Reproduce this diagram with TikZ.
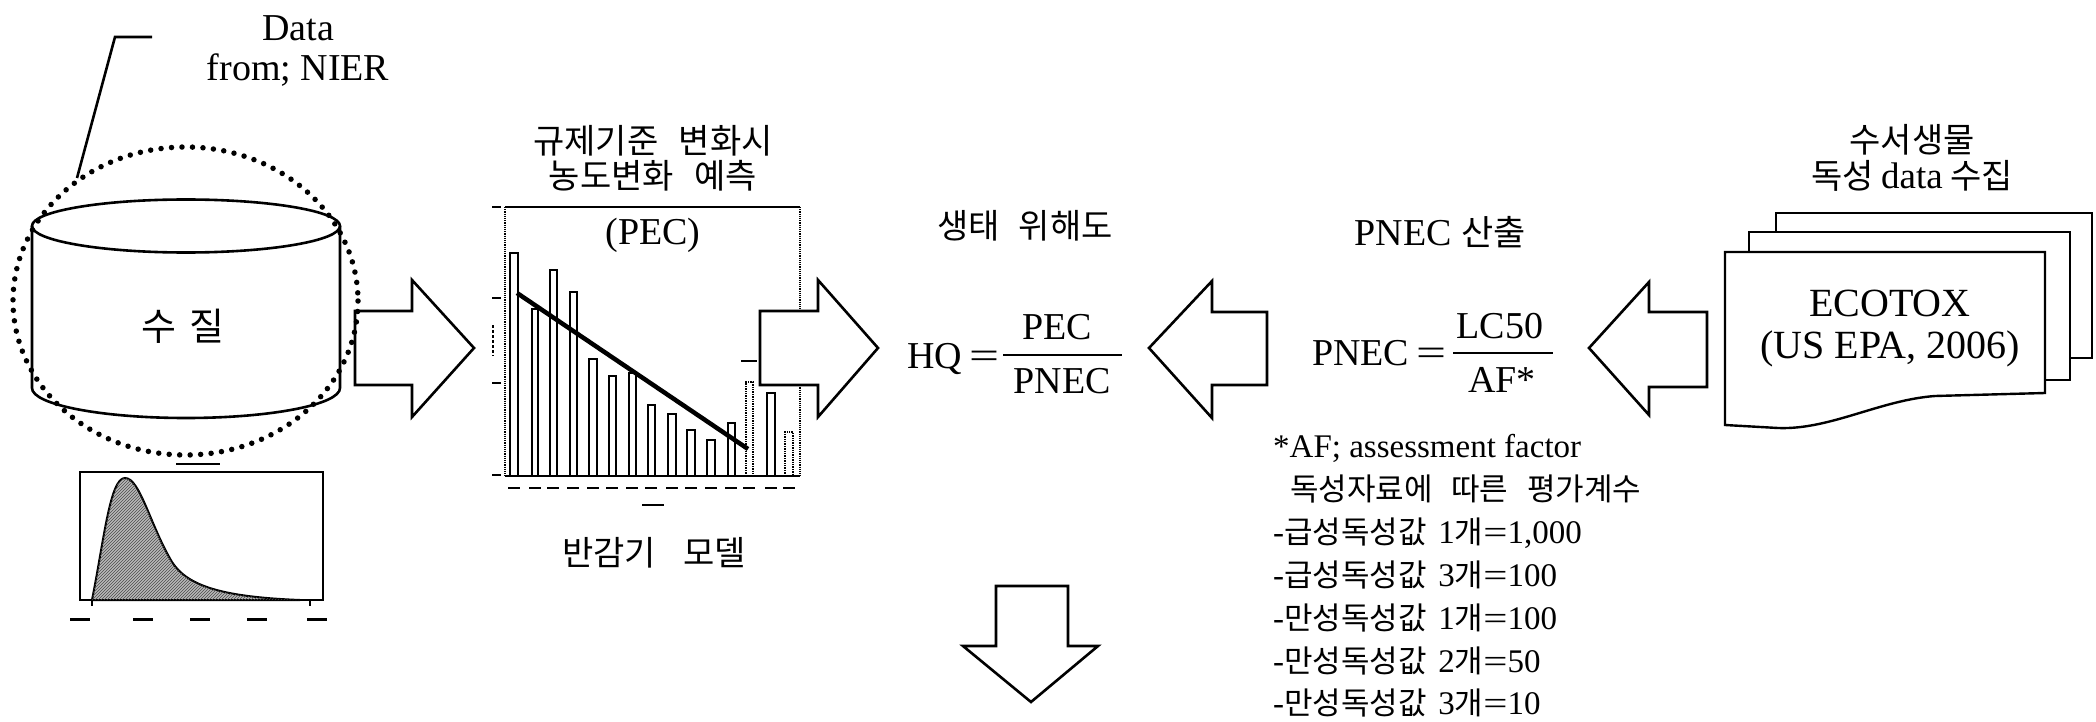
\documentclass[tikz,border=0pt]{standalone}
\usepackage{fontspec}
\setmainfont{Liberation Serif}
\newfontfamily\krfont{Noto Sans CJK KR}
\usetikzlibrary{patterns}
\newcommand\afline[3]{-{\krfont\fontsize{31}{36}\selectfont #1}\hspace{0.35em}#2{\krfont\fontsize{31}{36}\selectfont 개}\scalebox{1.3}[1]{=}#3}
\begin{document}
\begin{tikzpicture}[x=1pt,y=-1pt,
  ln/.style={line width=2.6pt, line join=miter},
  blockarrow/.style={draw=black, line width=2.6pt, fill=white, line join=miter},
  docshape/.style={draw=black, line width=2.4pt, fill=white},
  barbox/.style={draw=black, line width=2.2pt},
  dotbar/.style={draw=black, line width=1.4pt, densely dotted},
  tinymark/.style={line width=2.4pt},
  lat/.style={inner sep=0pt, font=\fontsize{38}{40}\selectfont},
  fm/.style={inner sep=0pt, font=\fontsize{38}{42}\selectfont},
  note/.style={inner sep=0pt, font=\fontsize{33}{36}\selectfont},
  kor/.style={inner sep=0pt, font=\krfont\fontsize{34}{35}\selectfont},
]
\useasboundingbox (0,0) rectangle (2096,722);

% ---------------- left: data source ----------------
\node[lat, align=center] (data) at (298,51) {Data\\from; NIER};
\coordinate (ld1) at (152,37);
\coordinate (ld2) at (115,37);
\coordinate (ld3) at (77,178);
\draw[ln] (ld1) -- (ld2) -- (ld3);

% cylinder
\draw[ln, fill=white] (32,226) -- (32,388) arc[start angle=180, end angle=0, x radius=154, y radius=30] -- (340,226);
\draw[ln] (186,226) ellipse [x radius=154, y radius=26.5];
\node[kor, font=\krfont\fontsize{38}{40}\selectfont] (wq) at (183,326) {수\hspace{0.35em}질};

% arrow 1
\draw[blockarrow] (355,311) -- (412,311) -- (412,280) -- (474,348) -- (412,417) -- (412,385) -- (355,385) -- cycle;

% dotted circle
\draw[line width=5.5pt, line cap=round, dash pattern=on 0pt off 10.5pt] (185.5,301) ellipse [x radius=172.5, y radius=154];

% distribution chart
\draw[line width=1.4pt] (80,472) rectangle (323,600);
\filldraw[fill=gray!55, line width=2pt, postaction={pattern=north east lines, pattern color=black!70}]
  (92,600) .. controls (104,540) and (110,478) .. (125,478)
  .. controls (140,478) and (150,525) .. (172,562)
  .. controls (188,587) and (225,597) .. (300,600) -- cycle;
\draw[tinymark] (176,464) -- (220,464);
\foreach \x in {80,143,200,257,317} \draw[tinymark, line width=3pt] (\x-10,619) -- (\x+10,619);
\draw[line width=1.5pt] (92,600) -- (92,606);
\draw[line width=1.5pt] (310,600) -- (310,606);

% ---------------- middle: half-life model chart ----------------
\node[kor, align=center] (ttl1) at (653,158) {규제기준\hspace{0.6em}변화시\\농도변화\hspace{0.6em}예측};
\draw[line width=2.2pt] (505,207) -- (800,207);
\draw[line width=1.2pt, densely dotted] (505,207) -- (505,476);
\draw[line width=1.2pt, densely dotted] (800,207) -- (800,476);
\draw[line width=1.8pt] (505,476) -- (800,476);
\foreach \l/\r/\t in {510/518/253, 532/538/309, 550/557/270, 570/577/292, 589/597/359, 609/616/376, 629/636/373, 648/655/405, 668/676/414, 687/695/430, 707/715/440, 728/735/423, 767/775/393}
  \draw[barbox] (\l,476) -- (\l,\t) -- (\r,\t) -- (\r,476);
\foreach \l/\r/\t in {746/753/382, 785/793/432}
  \draw[dotbar] (\l,476) -- (\l,\t) -- (\r,\t) -- (\r,476);
\draw[line width=4.5pt] (517,293) -- (748,449);
\node[fm] (pec0) at (653,235) {(PEC)};
% tiny axis labels
\foreach \c in {514,535,553,573,593,612,632,651,672,691,711,731,749,771,789} \draw[line width=2.6pt] (\c-6,488) -- (\c+6,488);
\draw[line width=1.4pt] (642,505) -- (664,505);
\foreach \y in {207,298,383,475} \draw[line width=2pt] (492,\y) -- (501,\y);
\draw[line width=1.4pt, densely dashed] (493,325) -- (493,356);
\draw[line width=2pt] (741,361) -- (757,361);
\node[kor] (hl) at (654,553) {반감기\hspace{0.8em}모델};

% arrow 2
\draw[blockarrow] (760,311) -- (818,311) -- (818,280) -- (878,348) -- (818,417) -- (818,385) -- (760,385) -- cycle;

% ---------------- centre: HQ ----------------
\node[kor] (eco) at (1025,226) {생태\hspace{0.55em}위해도};
\node[fm, anchor=base west] (hq) at (907,368) {HQ};
\node[fm, anchor=base] (eq1) at (984,368) {\scalebox{1.4}[1]{=}};
\node[fm, anchor=base] (pecn) at (1057,339) {PEC};
\node[fm, anchor=base] (pnecd) at (1062,393) {PNEC};
\coordinate (fb1) at (1003,355);
\coordinate (fb2) at (1122,355);
\draw[line width=1.6pt] (fb1) -- (fb2);

% down arrow
\draw[blockarrow] (996,586) -- (1068,586) -- (1068,646) -- (1098,646) -- (1031,702) -- (963,646) -- (996,646) -- cycle;

% arrow 3
\draw[blockarrow] (1267,312) -- (1212,312) -- (1212,281) -- (1149,348) -- (1212,418) -- (1212,385) -- (1267,385) -- cycle;

% ---------------- PNEC ----------------
\node[fm, anchor=base] (pnect) at (1440,245) {PNEC {\krfont\fontsize{35}{36}\selectfont 산출}};
\node[fm, anchor=base west] (pnec2) at (1312,365) {PNEC};
\node[fm, anchor=base] (eq2) at (1431,365) {\scalebox{1.4}[1]{=}};
\node[fm, anchor=base] (lc50) at (1500,338) {LC50};
\node[fm, anchor=base] (afs) at (1502,392) {AF*};
\coordinate (fb3) at (1453,353);
\coordinate (fb4) at (1553,353);
\draw[line width=1.6pt] (fb3) -- (fb4);

% notes
\node[note, anchor=base west] (n1) at (1273,457) {*AF; assessment factor};
\node[note, anchor=base west] (n2) at (1290,500) {{\krfont\fontsize{31}{36}\selectfont 독성자료에\hspace{0.6em}따른\hspace{0.6em}평가계수}};
\node[note, anchor=base west] (n3) at (1273,543) {\afline{급성독성값}{1}{1,000}};
\node[note, anchor=base west] (n4) at (1273,586) {\afline{급성독성값}{3}{100}};
\node[note, anchor=base west] (n5) at (1273,629) {\afline{만성독성값}{1}{100}};
\node[note, anchor=base west] (n6) at (1273,672) {\afline{만성독성값}{2}{50}};
\node[note, anchor=base west] (n7) at (1273,714) {\afline{만성독성값}{3}{10}};

% arrow 4
\draw[blockarrow] (1707,312) -- (1649,312) -- (1649,282) -- (1589,348) -- (1649,415) -- (1649,387) -- (1707,387) -- cycle;

% ---------------- right: ECOTOX documents ----------------
\node[inner sep=0pt, align=center, font=\krfont\fontsize{34}{36}\selectfont] (src) at (1912,158)
  {수서생물\\독성 {\rmfamily\fontsize{37}{36}\selectfont data} 수집};
\draw[docshape] (1776,213) rectangle (2092,358);
\draw[docshape] (1749,232) rectangle (2070,380);
\draw[docshape] (1725,252) -- (2045,252) -- (2045,393) -- (1935,396)
  .. controls (1880,400) and (1830,430) .. (1778,428) -- (1725,425) -- cycle;
\node[inner sep=0pt, align=center, font=\fontsize{40}{42}\selectfont] (ecotox) at (1890,329) {ECOTOX\\(US EPA, 2006)};
\end{tikzpicture}
\end{document}
